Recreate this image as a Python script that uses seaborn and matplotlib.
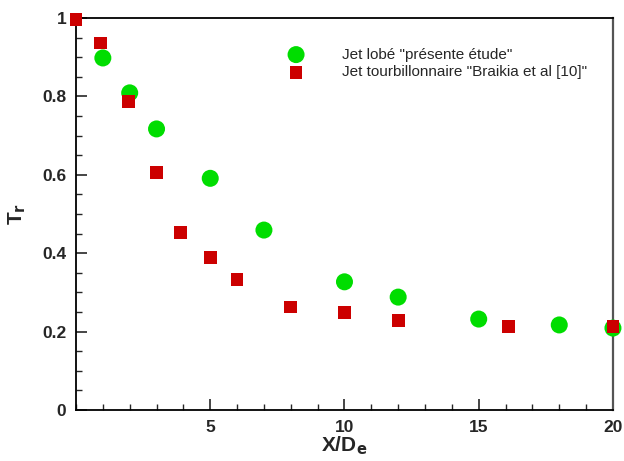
import pandas as pd
import numpy as np
import matplotlib
matplotlib.use('Agg')
import matplotlib.pyplot as plt
import seaborn as sns
from matplotlib.ticker import MultipleLocator, FixedLocator, FixedFormatter

# Data
x_lobe = [1, 2, 3, 5, 7, 10, 12, 15, 18, 20]
tr_lobe = [0.898, 0.809, 0.717, 0.591, 0.459, 0.327, 0.288, 0.232, 0.217, 0.209]

x_swirl = [0, 0.9, 1.95, 3, 3.9, 5, 6, 8, 10, 12, 16.1, 20]
tr_swirl = [0.997, 0.936, 0.786, 0.605, 0.452, 0.389, 0.332, 0.263, 0.249, 0.228, 0.214, 0.214]

label_lobe = 'Jet lobé "présente étude"'
label_swirl = 'Jet tourbillonnaire "Braikia et al [10]"'

y_ticks = [0, 0.2, 0.4, 0.6, 0.8, 1.0]
y_ticklabels = ['0', '0.2', '0.4', '0.6', '0.8', '1']
x_ticks = [5, 10, 15, 20]

sns.set_style('white')
plt.rcParams['font.family'] = ['Liberation Sans', 'DejaVu Sans']

fig = plt.figure(figsize=(6.24, 4.61), dpi=100)
ax = fig.add_axes([0.1218, 0.1106, 0.8605, 0.8504])

sns.scatterplot(x=x_lobe, y=tr_lobe, ax=ax, marker='o', s=150, color='#00dd00',
                edgecolor='none', label=label_lobe, clip_on=False, zorder=3)
sns.scatterplot(x=x_swirl, y=tr_swirl, ax=ax, marker='s', s=85, color='#cc0000',
                edgecolor='none', label=label_swirl, clip_on=False, zorder=4)

ax.set_xlim(0, 20)
ax.set_ylim(0, 1)
ax.xaxis.set_major_locator(FixedLocator(x_ticks))
ax.xaxis.set_minor_locator(MultipleLocator(1))
ax.yaxis.set_major_locator(FixedLocator(y_ticks))
ax.yaxis.set_major_formatter(FixedFormatter(y_ticklabels))
ax.yaxis.set_minor_locator(MultipleLocator(0.05))

ax.tick_params(which='major', direction='in', length=8, width=1.2, labelsize=12.5,
               bottom=True, left=True, top=False, right=False, pad=7)
ax.tick_params(which='minor', direction='in', length=4, width=1.0,
               bottom=True, left=True, top=False, right=False)
for lab in ax.get_xticklabels() + ax.get_yticklabels():
    lab.set_fontweight('bold')

for side in ['left', 'bottom', 'top']:
    ax.spines[side].set_color('black')
    ax.spines[side].set_linewidth(1.3)
ax.spines['right'].set_color('#555555')
ax.spines['right'].set_linewidth(1.6)

ax.set_xlabel('X/D$_\\mathbf{e}$', fontsize=15, fontweight='bold', labelpad=0)
ax.set_ylabel('T$_\\mathbf{r}$', fontsize=15, fontweight='bold', labelpad=10)

leg = ax.legend(loc='upper left', bbox_to_anchor=(0.37, 0.94), frameon=False,
                fontsize=11, handletextpad=2.0, labelspacing=0.25, borderaxespad=0)

plt.savefig('out.png', dpi=100)
